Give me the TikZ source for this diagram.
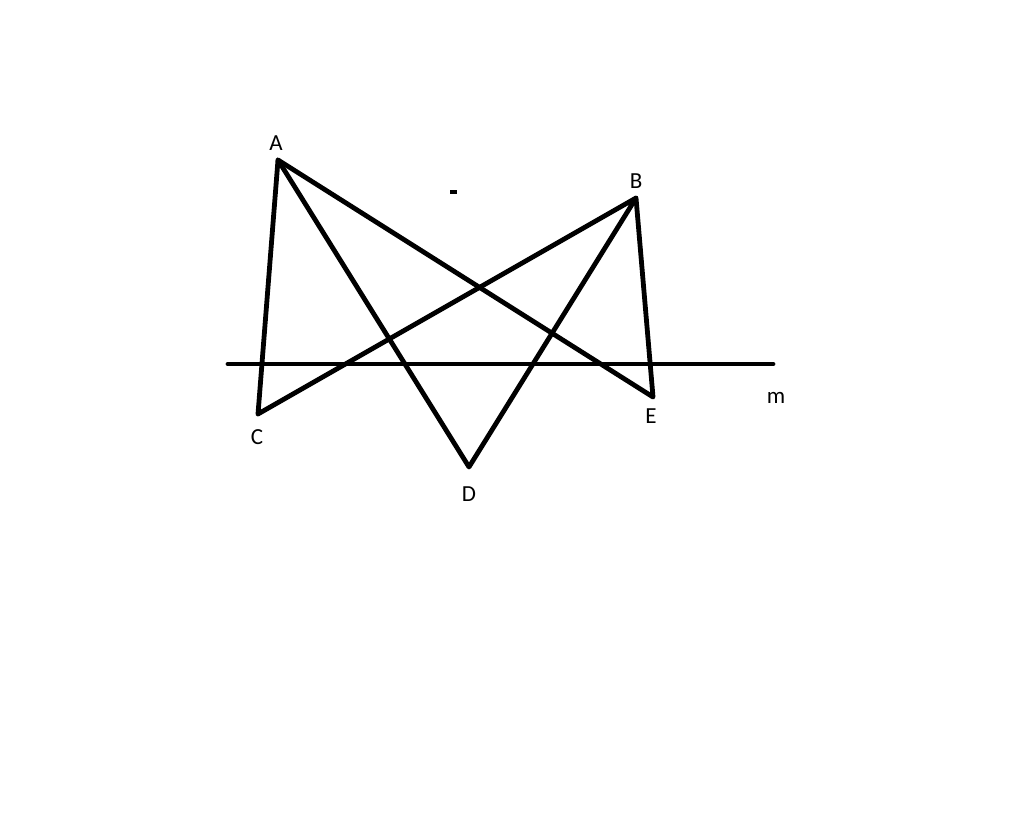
\documentclass[tikz,border=0pt]{standalone}
\usepackage{fontspec}
\setmainfont{Carlito}
\begin{document}
\begin{tikzpicture}[x=1pt,y=-1pt,
  seg/.style={line width=4.8pt,line cap=round,line join=round},
  lbl/.style={font=\fontsize{23}{23}\selectfont,inner sep=0pt}]
\useasboundingbox[fill=white] (0,0) rectangle (1024,816);
\coordinate (A) at (278,160);
\coordinate (B) at (636,198);
\coordinate (C) at (258,414);
\coordinate (D) at (469,467);
\coordinate (E) at (653,397);
\coordinate (m1) at (228,364);
\coordinate (m2) at (773,364);
\draw[seg] (C) -- (A) -- (D) -- (B) -- (C);
\draw[seg] (A) -- (E) -- (B);
\draw[seg] (m1) -- (m2);
\fill (450,190) rectangle (457,194);
\node[lbl] (lA) at (276,143) {A};
\node[lbl] (lB) at (636,181) {B};
\node[lbl] (lC) at (257,437) {C};
\node[lbl] (lD) at (469,494) {D};
\node[lbl] (lE) at (651,416) {E};
\node[lbl] (lm) at (776,398) {m};
\end{tikzpicture}
\end{document}
